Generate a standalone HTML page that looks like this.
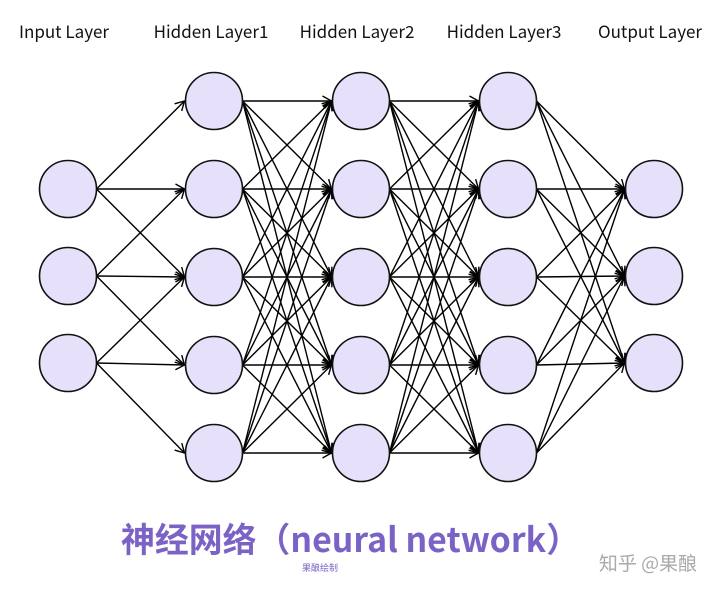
<!DOCTYPE html>
<html><head><meta charset="utf-8"><style>
html,body{margin:0;padding:0;background:#fff;width:720px;height:591px;overflow:hidden}
svg{display:block}
</style></head><body>
<svg id="s" width="720" height="591" xmlns="http://www.w3.org/2000/svg">
<defs><marker id="a" markerWidth="12" markerHeight="12" refX="10" refY="6" orient="auto" markerUnits="userSpaceOnUse"><path d="M1,1 L10,6 L1,11" fill="none" stroke="#000" stroke-width="1.4"/></marker></defs>
<g font-family="'Noto Sans CJK SC', sans-serif" font-size="17" fill="#111" text-anchor="middle">
<text x="64" y="38">Input Layer</text>
<text x="211" y="38">Hidden Layer1</text>
<text x="357" y="38">Hidden Layer2</text>
<text x="504" y="38">Hidden Layer3</text>
<text x="650" y="38">Output Layer</text>
</g>
<g id="e" stroke="#000" stroke-width="1.4" fill="none"></g>
<g id="n" fill="#e6e0fa" stroke="#111" stroke-width="1.6"></g>
<text x="121" y="552" textLength="459" lengthAdjust="spacingAndGlyphs" font-family="'Noto Sans CJK SC', sans-serif" font-weight="bold" font-size="34" fill="#7b63c6">神经网络（neural network）</text>
<text x="320" y="571" text-anchor="middle" font-family="'Noto Sans CJK SC', sans-serif" font-size="9" fill="#7b63c6">果酿绘制</text>
<text x="648" y="570" text-anchor="middle" font-family="'Noto Sans CJK SC', sans-serif" font-size="19" fill="#aaa">知乎 @果酿</text>
</svg>
<script>
var L=[[68,[189,276,363]],[214,[101,189,277,365,453]],[361,[101,189,277,365,453]],[508,[101,189,277,365,453]],[654,[189,276,363]]];
var r=28.5,ns="http://www.w3.org/2000/svg",e=document.getElementById('e'),n=document.getElementById('n');
function ln(x1,y1,x2,y2){var l=document.createElementNS(ns,'line');
l.setAttribute('x1',x1+r);l.setAttribute('y1',y1);l.setAttribute('x2',x2-r-1);l.setAttribute('y2',y2);
l.setAttribute('marker-end','url(#a)');e.appendChild(l);}
for(var i=0;i<4;i++){var A=L[i],B=L[i+1];A[1].forEach(function(y1,ai){B[1].forEach(function(y2,bi){
if(i==0&&(bi<ai||bi>ai+2))return;
ln(A[0],y1,B[0],y2);});});}
L.forEach(function(a){a[1].forEach(function(y){var c=document.createElementNS(ns,'circle');c.setAttribute('cx',a[0]);c.setAttribute('cy',y);c.setAttribute('r',r);n.appendChild(c);});});
</script>
</body></html>
